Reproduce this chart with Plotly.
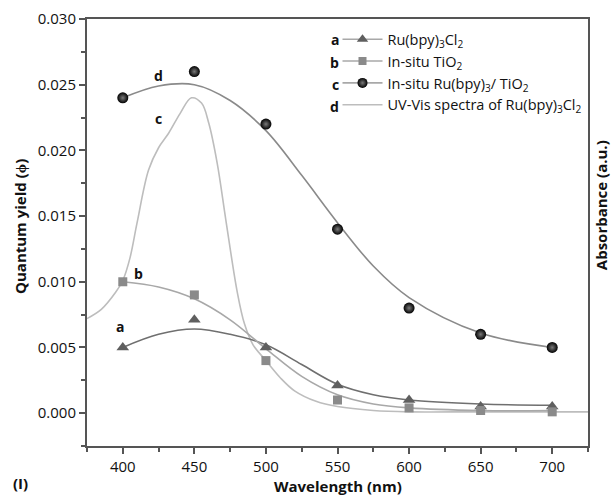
import plotly.graph_objects as go

# ---- data ----
wavelength = [400, 450, 500, 550, 600, 650, 700]
qy_ru = [0.0050, 0.0071, 0.0050, 0.0021, 0.0010, 0.0005, 0.0005]
qy_tio2 = [0.0100, 0.0090, 0.0040, 0.0010, 0.0004, 0.0002, 0.0001]
qy_ru_tio2 = [0.0240, 0.0260, 0.0220, 0.0140, 0.0080, 0.0060, 0.0050]

fit_wl = [400, 425, 450, 475, 500, 525, 550, 575, 600, 650, 700]
fit_ru = [0.0050, 0.0060, 0.0064, 0.0060, 0.0052, 0.0037, 0.0022, 0.0014, 0.0010, 0.0007, 0.0006]
fit_tio2 = [0.0100, 0.0096, 0.0087, 0.0071, 0.0049, 0.0028, 0.0014, 0.0007, 0.0004, 0.0002, 0.0002]
fit_ru_tio2 = [0.0240, 0.0249, 0.0250, 0.0238, 0.0215, 0.0181, 0.0145, 0.0112, 0.0088, 0.0061, 0.0050]

uv_wl = [375, 385, 395, 400, 405, 410, 418, 425, 432, 440, 448, 455, 460, 466, 472,
         480, 485, 491, 500, 510, 520, 535, 550, 575, 600, 650, 725]
uv_abs = [0.0072, 0.0079, 0.0092, 0.0101, 0.0118, 0.0145, 0.0185, 0.0202, 0.0213, 0.0228,
          0.0240, 0.0236, 0.0221, 0.0190, 0.0147, 0.0092, 0.0068, 0.0052, 0.0040, 0.0027,
          0.0017, 0.0009, 0.0005, 0.0002, 0.0001, 0.0001, 0.0001]

legend_names = ["Ru(bpy)<sub>3</sub>Cl<sub>2</sub>", "In-situ TiO<sub>2</sub>",
                "In-situ Ru(bpy)<sub>3</sub>/ TiO<sub>2</sub>",
                "UV-Vis spectra of Ru(bpy)<sub>3</sub>Cl<sub>2</sub>"]
legend_letters = ["a", "b", "c", "d"]

FONT = "Open Sans"
AX = "#555555"
TXT = "#111111"

fig = go.Figure()

# fitted curves
fig.add_trace(go.Scatter(x=uv_wl, y=uv_abs, mode="lines", line=dict(color="#bdbdbd", width=1.6, shape="spline"),
                         showlegend=False, hoverinfo="skip"))
fig.add_trace(go.Scatter(x=fit_wl, y=fit_ru, mode="lines", line=dict(color="#6f6f6f", width=1.6, shape="spline"),
                         showlegend=False))
fig.add_trace(go.Scatter(x=fit_wl, y=fit_tio2, mode="lines", line=dict(color="#a8a8a8", width=1.6, shape="spline"),
                         showlegend=False))
fig.add_trace(go.Scatter(x=fit_wl, y=fit_ru_tio2, mode="lines", line=dict(color="#8a8a8a", width=1.6, shape="spline"),
                         showlegend=False))

# markers
fig.add_trace(go.Scatter(x=wavelength, y=qy_ru, mode="markers",
                         marker=dict(symbol="triangle-up", size=11, color="#5f5f5f"), showlegend=False))
fig.add_trace(go.Scatter(x=wavelength, y=qy_tio2, mode="markers",
                         marker=dict(symbol="square", size=9, color="#8a8a8a"), showlegend=False))
fig.add_trace(go.Scatter(x=wavelength, y=qy_ru_tio2, mode="markers",
                         marker=dict(symbol="circle", size=11, color="#000000",
                                     gradient=dict(type="radial", color="#7a7a7a"),
                                     line=dict(width=0)), showlegend=False))

# legend-only entries
leg_markers = [dict(symbol="triangle-up", size=10, color="#5f5f5f"),
               dict(symbol="square", size=8, color="#8a8a8a"),
               dict(symbol="circle", size=10, color="#000000", gradient=dict(type="radial", color="#7a7a7a")),
               None]
for name, mk in zip(legend_names, leg_markers):
    if mk is None:
        fig.add_trace(go.Scatter(x=[None], y=[None], mode="lines", name=name,
                                 line=dict(color="#bdbdbd", width=1.6)))
    else:
        fig.add_trace(go.Scatter(x=[None], y=[None], mode="lines+markers", name=name,
                                 line=dict(color="#a8a8a8", width=1.6), marker=mk))

# letters in plot
for lx, ly, lt in [(398, 0.0066, "a"), (411, 0.0106, "b"), (425, 0.0224, "c"), (425, 0.0257, "d")]:
    fig.add_annotation(x=lx, y=ly, text="<b>%s</b>" % lt, showarrow=False,
                       xanchor="center", yanchor="middle", font=dict(size=14, color=TXT))

# legend letters
for i, let in enumerate(legend_letters):
    fig.add_annotation(xref="paper", yref="paper", x=0.506, y=[0.951, 0.898, 0.846, 0.795][i],
                       text="<b>%s</b>" % let, showarrow=False, xanchor="right", yanchor="middle",
                       font=dict(size=14, color=TXT))

# axis titles
fig.add_annotation(xref="paper", yref="paper", x=-0.134, y=0.515, text="<b>Quantum yield (ϕ)</b>",
                   textangle=-90, showarrow=False, xanchor="center", yanchor="middle",
                   font=dict(size=15, color=TXT))
fig.add_annotation(xref="paper", yref="paper", x=1.026, y=0.564, text="<b>Absorbance (a.u.)</b>",
                   textangle=-90, showarrow=False, xanchor="center", yanchor="middle",
                   font=dict(size=15, color=TXT))
fig.add_annotation(xref="paper", yref="paper", x=0.5, y=-0.093, xanchor="center", yanchor="middle",
                   text="<b>Wavelength (nm)</b>", showarrow=False, font=dict(size=15, color=TXT))
fig.add_annotation(xref="paper", yref="paper", x=-0.152, y=-0.087, text="<b>(I)</b>", xanchor="left",
                   yanchor="middle", showarrow=False, font=dict(size=15, color=TXT))

fig.update_layout(
    template="none",
    width=612, height=496,
    margin=dict(l=87, r=24, t=19, b=50, autoexpand=False),
    paper_bgcolor="white", plot_bgcolor="white",
    font=dict(family=FONT, size=15, color=TXT),
    legend=dict(x=0.5, y=0.99, xanchor="left", yanchor="top", bgcolor="rgba(0,0,0,0)",
                font=dict(size=14.5, color=TXT), tracegroupgap=0, itemwidth=40),
    xaxis=dict(range=[375, 725], dtick=50, tick0=0, showgrid=False, zeroline=False, automargin=False,
               showline=True, linecolor=AX, linewidth=2, mirror=True,
               ticks="outside", ticklen=6, tickwidth=1.5, tickcolor=AX,
               minor=dict(dtick=25, ticks="outside", ticklen=4, tickcolor=AX, tickwidth=1.5, showgrid=False)),
    yaxis=dict(range=[-0.0025, 0.030], dtick=0.005, tick0=0, tickformat=".3f", showgrid=False, zeroline=False,
               automargin=False,
               showline=True, linecolor=AX, linewidth=2, mirror=True,
               ticks="outside", ticklen=6, tickwidth=1.5, tickcolor=AX,
               minor=dict(dtick=0.0025, ticks="outside", ticklen=4, tickcolor=AX, tickwidth=1.5, showgrid=False)),
)

# remove the default page margin so the 612x496 figure fills the window exactly
fig.write_html("out.html", config={"displayModeBar": False},
               post_script="document.body.style.margin='0';document.body.style.overflow='hidden';")
